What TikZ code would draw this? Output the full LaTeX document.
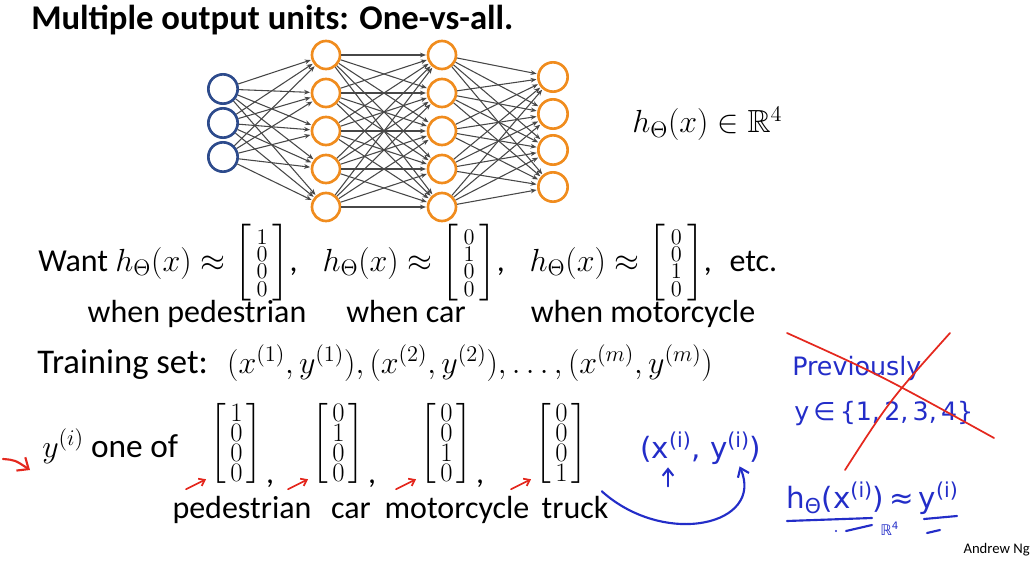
\RequirePackage{fix-cm}
\documentclass[tikz,border=0pt]{standalone}
\usepackage{amsmath}
\usepackage{amssymb}
\usepackage[no-math]{fontspec}
\setmainfont{Carlito}
\newfontfamily\handfont{DejaVu Sans}
\usetikzlibrary{arrows.meta}

\definecolor{inblue}{RGB}{45,75,140}
\definecolor{unitorange}{RGB}{240,140,30}
\definecolor{penblue}{RGB}{35,45,200}
\definecolor{penred}{RGB}{228,40,30}

% small one-hot vectors (Want row) and the larger ones (y one of)
\newcommand{\smallvec}[4]{\left[\begin{smallmatrix}#1\\#2\\#3\\#4\end{smallmatrix}\right]}
\newcommand{\bigvec}[4]{\left[\begin{smallmatrix}\textstyle#1\\\textstyle#2\\\textstyle#3\\\textstyle#4\end{smallmatrix}\right]}

\begin{document}
\begin{tikzpicture}[
        x=0.75pt, y=-0.75pt,
        % Slide text
        txt/.style={font=\fontsize{24}{29}\selectfont, inner sep=0},
        titletxt/.style={font=\fontsize{26}{31}\selectfont\bfseries, inner sep=0},
        vecnode/.style={font=\fontsize{20}{24}\selectfont, inner sep=0},
        % Network units
        inunit/.style={circle, draw=inblue, line width=2pt, minimum size=22pt, inner sep=0},
        hidunit/.style={circle, draw=unitorange, line width=2pt, minimum size=21pt, inner sep=0},
        edge/.style={draw=black!72, line width=0.8pt, -{Stealth[length=4.5pt,width=3.5pt]}, shorten >=0.5pt},
        % Handwriting
        hand/.style={font=\handfont\fontsize{19}{22}\selectfont, text=penblue, inner sep=0},
        pen/.style={penblue, line width=1.6pt, line cap=round, line join=round},
        redpen/.style={penred, line width=1.3pt, line cap=round, line join=round}
    ]
    \useasboundingbox (0,0) rectangle (1035,563);

    % --- 1. TITLE ---
    \node[titletxt, anchor=base west] (title) at (31,30) {Multiple output units: One-vs-all.};

    % --- 2. NETWORK ---
    \foreach \k/\yy in {1/89,2/123,3/157}
        \node[inunit] (in\k) at (223,\yy) {};
    \foreach \k/\yy in {1/55,2/93,3/131,4/169,5/207} {
        \node[hidunit] (ha\k) at (326,\yy) {};
        \node[hidunit] (hb\k) at (442,\yy) {};
    }
    \foreach \k/\yy in {1/77,2/114,3/150,4/187}
        \node[hidunit, minimum size=22pt] (out\k) at (553,\yy) {};

    \foreach \i in {1,...,3}
        \foreach \j in {1,...,5}
            \draw[edge] (in\i) -- (ha\j);
    \foreach \i in {1,...,5}
        \foreach \j in {1,...,5}
            \draw[edge] (ha\i) -- (hb\j);
    \foreach \i in {1,...,5}
        \foreach \j in {1,...,4}
            \draw[edge] (hb\i) -- (out\j);

    \node[txt, anchor=base west] (hdim) at (632,133) {$h_\Theta(x)\in\mathbb{R}^4$};

    % --- 3. WANT ROW ---
    \node[txt, anchor=base west] (want) at (38,271)
        {Want $h_\Theta(x)\approx\smallvec{1}{0}{0}{0}$,\hspace{0.55em}
         $h_\Theta(x)\approx\smallvec{0}{1}{0}{0}$,\hspace{0.55em}
         $h_\Theta(x)\approx\smallvec{0}{0}{1}{0}$,\hspace{0.55em}etc.};
    \node[txt, anchor=base] (wped) at (197,322) {when pedestrian};
    \node[txt, anchor=base] (wcar) at (406,322) {when car};
    \node[txt, anchor=base] (wmoto) at (643,322) {when motorcycle};

    % --- 4. TRAINING SET ---
    \node[txt, anchor=base west] (train) at (37,373)
        {{\fontsize{26}{31}\selectfont Training set:}\hspace{0.6em}$(x^{(1)},y^{(1)}),(x^{(2)},y^{(2)}),\ldots,(x^{(m)},y^{(m)})$};

    % --- 5. ONE-HOT TARGETS ---
    \node[txt, anchor=base west] (yone) at (42,457) {$y^{(i)}$ {\fontsize{25}{30}\selectfont one of}};
    \node[vecnode, anchor=west] (v1) at (210,443) {$\bigvec{1}{0}{0}{0}$};
    \node[vecnode, anchor=west] (v2) at (312,443) {$\bigvec{0}{1}{0}{0}$};
    \node[vecnode, anchor=west] (v3) at (420,443) {$\bigvec{0}{0}{1}{0}$};
    \node[vecnode, anchor=west] (v4) at (535,443) {$\bigvec{0}{0}{0}{1}$};
    \foreach \v in {1,2,3}
        \node[txt, anchor=base west] (cm\v) at ([shift={(3,0)}]v\v.south east) {,};

    \node[txt, anchor=base] (lped) at (242,518) {pedestrian};
    \node[txt, anchor=base] (lcar) at (351,518) {car};
    \node[txt, anchor=base] (lmoto) at (457,518) {motorcycle};
    \node[txt, anchor=base] (ltruck) at (575,518) {truck};

    % red pen marks
    \draw[redpen, line width=1.6pt, -{Straight Barb[length=7pt,width=12pt]}] (3,459) .. controls (15,460) .. (30,470);
    \foreach \v in {1,...,4}
        \draw[redpen, -{Straight Barb[length=4pt,width=6pt]}] ([shift={(-24,6)}]v\v.south west) -- ([shift={(-4,-4)}]v\v.south west);

    % --- 6. HANDWRITTEN NOTES ---
    \node[hand, font=\handfont\fontsize{22}{26}\selectfont, anchor=base west] (pair) at (640,458) {(x\textsuperscript{(i)}, y\textsuperscript{(i)})};
    \draw[pen, -{Straight Barb[length=5pt,width=8pt]}] ([shift={(28,22)}]pair.south west) -- ([shift={(28,3)}]pair.south west);
    \draw[pen, -{Straight Barb[length=6pt,width=9pt]}] ([shift={(14,8)}]v4.south east)
        .. controls (665,548) and (765,525) .. ([shift={(-22,2)}]pair.south east);

    \node[hand, anchor=base west] (prev) at (792,375) {Previously};
    \node[hand, anchor=base west] (yset) at (794,420) {y\,∈\,\{1,\,2,\,3,\,4\}};
    \draw[redpen] (787,333) .. controls (880,375) .. (994,438);
    \draw[redpen] (950,333) .. controls (890,400) .. (845,470);

    \node[hand, font=\handfont\fontsize{22}{26}\selectfont, anchor=base west] (happ) at (786,508) {h\textsubscript{Θ}(x\textsuperscript{(i)})\,≈\,y\textsuperscript{(i)}};
    \draw[pen] (787,521) -- (872,518);
    \fill[penblue] (836,531) circle (1.2);
    \draw[pen] (846,531) -- (872,525);
    \node[hand, font=\handfont\fontsize{11}{13}\selectfont, anchor=base west] (rfour) at (880,535) {ℝ\textsuperscript{4}};
    \draw[pen] (924,519) -- (957,516);
    \draw[pen] (927,533) -- (940,530);

    \node[anchor=base east, inner sep=0, font=\fontsize{11}{13}\selectfont] (author) at (1030,553) {Andrew Ng};

\end{tikzpicture}
\end{document}
